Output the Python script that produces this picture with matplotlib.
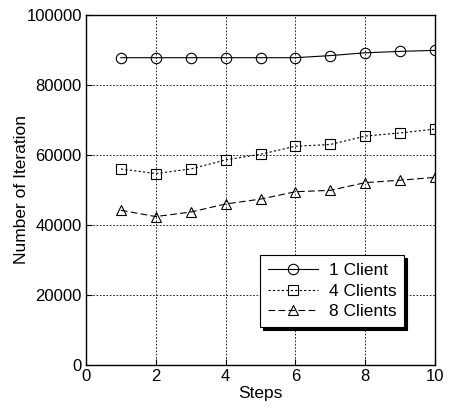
import matplotlib
matplotlib.use("Agg")
import matplotlib.pyplot as plt

plt.rcParams["font.family"] = ["Liberation Sans", "DejaVu Sans"]

steps = [1, 2, 3, 4, 5, 6, 7, 8, 9, 10]
one_client = [87800, 87800, 87800, 87800, 87800, 87800, 88400, 89200, 89600, 89900]
four_clients = [56000, 54700, 56000, 58600, 60200, 62500, 63000, 65400, 66300, 67400]
eight_clients = [44200, 42400, 43700, 46000, 47400, 49500, 49900, 52100, 52800, 53600]

fig = plt.figure(figsize=(4.56, 4.11), dpi=100)
ax = fig.add_axes([0.1886, 0.112, 0.7654, 0.8515])

common = dict(color="black", linewidth=0.8, markersize=7.5,
              markerfacecolor="none", markeredgecolor="black", markeredgewidth=0.8)
ax.plot(steps, one_client, linestyle="-", marker="o", label="1 Client", **common)
ax.plot(steps, four_clients, linestyle=(0, (2, 2)), marker="s", label="4 Clients", **common)
ax.plot(steps, eight_clients, linestyle=(0, (6, 3)), marker="^", label="8 Clients", **common)

ax.set_xlim(0, 10)
ax.set_ylim(0, 100000)
ax.set_xticks([0, 2, 4, 6, 8, 10])
ax.set_yticks([0, 20000, 40000, 60000, 80000, 100000])
ax.grid(True, color="black", linestyle=(0, (2, 2)), linewidth=0.6)
ax.tick_params(direction="in", labelsize=12, length=4, width=0.8, pad=3)
for s in ax.spines.values():
    s.set_linewidth(1.0)
ax.set_xlabel("Steps", fontsize=12.5, labelpad=1)
ax.set_ylabel("Number of Iteration", fontsize=12.5, labelpad=-2)

leg = ax.legend(loc="lower right", bbox_to_anchor=(0.911, 0.109), fontsize=12.5,
                fancybox=False, edgecolor="black", framealpha=1,
                shadow={"color": "black", "alpha": 1}, handlelength=2.9,
                handletextpad=0.6, borderpad=0.45, borderaxespad=0,
                labelspacing=0.3)
leg.get_frame().set_linewidth(0.8)

fig.savefig("out.png", dpi=100)
